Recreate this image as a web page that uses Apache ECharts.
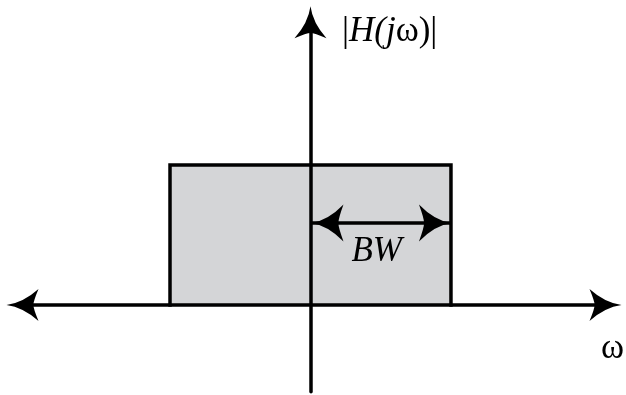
<!DOCTYPE html>
<html><head><meta charset="utf-8">
<script src="https://cdn.jsdelivr.net/npm/echarts@6/dist/echarts.min.js"></script>
<style>html,body{margin:0;padding:0;background:#fff}#c{width:626px;height:395px}</style>
</head><body><div id="c"></div>
<script>
// ---- data ----
const xRange = [-2.05, 2.1];          // ω axis extent (units of BW)
const yRange = [-0.62, 2.02];         // |H| axis extent
const passbandX = [-1, -1, 1, 1];     // ideal low-pass outline
const passbandY = [0, 1, 1, 0];
const bwSpan = [0, 1];                // BW arrow from 0 to band edge
const bwLevel = [0.585];
const magLabel = '|H(jω)|';
const omegaLabel = 'ω';
const bwLabel = 'BW';

// ---- chart ----
const arrowPath = 'path://M50,0 Q57,52 100,100 Q62,84 50,84 Q38,84 0,100 Q43,52 50,0 Z';
const serif = 'Liberation Serif';
const chart = echarts.init(document.getElementById('c'));
const axisCommon = {
  type: 'value',
  axisTick: {show: false},
  axisLabel: {show: false},
  splitLine: {show: false},
  z: 5
};
chart.setOption({
  animation: false,
  backgroundColor: '#fff',
  textStyle: {fontFamily: serif},
  grid: {left: 22.5, top: 22.2, width: 583, height: 369.6, containLabel: false},
  xAxis: Object.assign({}, axisCommon, {
    min: xRange[0], max: xRange[1],
    axisLine: {show: true, onZero: true, lineStyle: {color: '#000', width: 3.5},
      symbol: [arrowPath, arrowPath], symbolSize: [37, 32]}
  }),
  yAxis: Object.assign({}, axisCommon, {
    min: yRange[0], max: yRange[1],
    axisLine: {show: true, onZero: true, lineStyle: {color: '#000', width: 3.5},
      symbol: ['none', arrowPath], symbolSize: [37, 32]}
  }),
  title: [
    {text: '|{i|H(j}ω)|', left: 342, top: 14, padding: 0,
      textStyle: {fontFamily: serif, fontSize: 35, fontWeight: 'normal', color: '#000',
        rich: {i: {fontFamily: serif, fontSize: 35, fontWeight: 'normal', fontStyle: 'italic', color: '#000'}}}},
    {text: omegaLabel, left: 601, top: 331, padding: 0,
      textStyle: {fontFamily: serif, fontSize: 35, fontWeight: 'normal', fontStyle: 'normal', color: '#000'}}
  ],
  series: [{
    type: 'line',
    data: passbandX.map((x, i) => [x, passbandY[i]]),
    symbol: 'none',
    z: 2,
    lineStyle: {color: '#000', width: 3.5, join: 'miter', cap: 'square'},
    areaStyle: {color: '#d4d5d7', opacity: 1},
    markLine: {
      silent: true,
      symbol: [arrowPath, arrowPath],
      symbolSize: [37, 32],
      symbolOffset: [[0, 17], [0, 16]],
      lineStyle: {color: '#000', width: 3.5, type: 'solid'},
      label: {show: true, position: 'insideMiddleBottom', formatter: bwLabel, distance: 11,
        padding: [0, 8, 0, 0],
        fontFamily: serif, fontSize: 35, fontStyle: 'italic', fontWeight: 'normal', color: '#000'},
      data: [[{coord: [bwSpan[0], bwLevel[0]]}, {coord: [bwSpan[1], bwLevel[0]]}]]
    }
  }]
});
</script></body></html>
